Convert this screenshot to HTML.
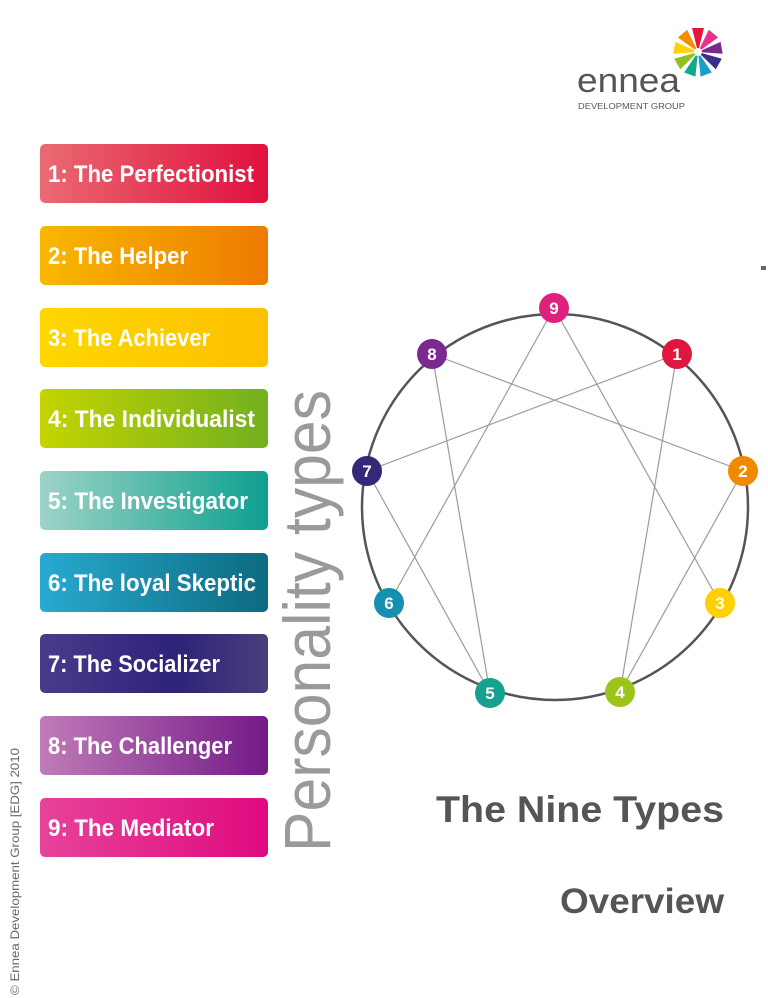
<!DOCTYPE html>
<html><head><meta charset="utf-8"><style>
html,body{margin:0;padding:0;background:#fff;}
svg{display:block;}
</style></head><body>
<svg width="768" height="998" viewBox="0 0 768 998" xmlns="http://www.w3.org/2000/svg" font-family="Liberation Sans, sans-serif">
<defs>
<linearGradient id="g1"><stop offset="0" stop-color="#ea6a72"/><stop offset="1" stop-color="#e0103e"/></linearGradient>
<linearGradient id="g2"><stop offset="0" stop-color="#f8b800"/><stop offset="1" stop-color="#ee7a00"/></linearGradient>
<linearGradient id="g3"><stop offset="0" stop-color="#ffd700"/><stop offset="1" stop-color="#fcc000"/></linearGradient>
<linearGradient id="g4"><stop offset="0" stop-color="#c4d400"/><stop offset="1" stop-color="#72b020"/></linearGradient>
<linearGradient id="g5"><stop offset="0" stop-color="#9dd3c6"/><stop offset="1" stop-color="#0da08e"/></linearGradient>
<linearGradient id="g6"><stop offset="0" stop-color="#28aad0"/><stop offset="1" stop-color="#0d6a80"/></linearGradient>
<linearGradient id="g7"><stop offset="0" stop-color="#4a3a8c"/><stop offset="0.6" stop-color="#2d2378"/><stop offset="1" stop-color="#4a3f7a"/></linearGradient>
<linearGradient id="g8"><stop offset="0" stop-color="#c07bb8"/><stop offset="1" stop-color="#741a88"/></linearGradient>
<linearGradient id="g9"><stop offset="0" stop-color="#e6439a"/><stop offset="1" stop-color="#e00a7e"/></linearGradient>
</defs>

<!-- logo -->
<g transform="translate(698,52)">
<path d="M0,0 L-6,-24 L6,-24Z" fill="#e2183c" transform="rotate(0)"/>
<path d="M0,0 L-6,-24 L6,-24Z" fill="#e8308c" transform="rotate(40)"/>
<path d="M0,0 L-6,-24 L6,-24Z" fill="#7a2a8e" transform="rotate(80)"/>
<path d="M0,0 L-6,-24 L6,-24Z" fill="#3a2e88" transform="rotate(120)"/>
<path d="M0,0 L-6,-24 L6,-24Z" fill="#1a9fc8" transform="rotate(160)"/>
<path d="M0,0 L-6,-24 L6,-24Z" fill="#14a88e" transform="rotate(200)"/>
<path d="M0,0 L-6,-24 L6,-24Z" fill="#8ec21e" transform="rotate(240)"/>
<path d="M0,0 L-6,-24 L6,-24Z" fill="#ffd200" transform="rotate(280)"/>
<path d="M0,0 L-6,-24 L6,-24Z" fill="#f29000" transform="rotate(320)"/>
<circle r="4" fill="#fff"/>
</g>
<text x="577" y="92" font-size="34" fill="#555" textLength="103" lengthAdjust="spacingAndGlyphs">ennea</text>
<text x="578" y="109" font-size="8.5" fill="#555" textLength="107" lengthAdjust="spacingAndGlyphs">DEVELOPMENT GROUP</text>
<rect x="761" y="266" width="5" height="4" fill="#666"/>

<!-- bars -->
<g font-weight="bold" font-size="24" fill="#fff">
<rect x="40" y="144" width="228" height="59" rx="5" fill="url(#g1)"/><text x="48" y="182" textLength="206" lengthAdjust="spacingAndGlyphs">1: The Perfectionist</text>
<rect x="40" y="226" width="228" height="59" rx="5" fill="url(#g2)"/><text x="48" y="264" textLength="140" lengthAdjust="spacingAndGlyphs">2: The Helper</text>
<rect x="40" y="308" width="228" height="59" rx="5" fill="url(#g3)"/><text x="48" y="346" textLength="162" lengthAdjust="spacingAndGlyphs">3: The Achiever</text>
<rect x="40" y="389" width="228" height="59" rx="5" fill="url(#g4)"/><text x="48" y="427" textLength="207" lengthAdjust="spacingAndGlyphs">4: The Individualist</text>
<rect x="40" y="471" width="228" height="59" rx="5" fill="url(#g5)"/><text x="48" y="509" textLength="200" lengthAdjust="spacingAndGlyphs">5: The Investigator</text>
<rect x="40" y="553" width="228" height="59" rx="5" fill="url(#g6)"/><text x="48" y="591" textLength="208" lengthAdjust="spacingAndGlyphs">6: The loyal Skeptic</text>
<rect x="40" y="634" width="228" height="59" rx="5" fill="url(#g7)"/><text x="48" y="672" textLength="172" lengthAdjust="spacingAndGlyphs">7: The Socializer</text>
<rect x="40" y="716" width="228" height="59" rx="5" fill="url(#g8)"/><text x="48" y="754" textLength="184" lengthAdjust="spacingAndGlyphs">8: The Challenger</text>
<rect x="40" y="798" width="228" height="59" rx="5" fill="url(#g9)"/><text x="48" y="836" textLength="166" lengthAdjust="spacingAndGlyphs">9: The Mediator</text>
</g>

<text transform="translate(330,852) rotate(-90)" font-size="66" fill="#9a9a9a" textLength="462" lengthAdjust="spacingAndGlyphs">Personality types</text>
<text transform="translate(19,995) rotate(-90)" font-size="12" fill="#666" textLength="247" lengthAdjust="spacingAndGlyphs">© Ennea Development Group [EDG] 2010</text>

<!-- enneagram -->
<circle cx="555" cy="507" r="193" fill="none" stroke="#555" stroke-width="2.5"/>
<g stroke="#a09a98" stroke-width="1.2">
<line x1="554" y1="308" x2="720" y2="603"/>
<line x1="554" y1="308" x2="389" y2="603"/>
<line x1="677" y1="354" x2="367" y2="471"/>
<line x1="677" y1="354" x2="620" y2="692"/>
<line x1="620" y1="692" x2="743" y2="471"/>
<line x1="743" y1="471" x2="432" y2="354"/>
<line x1="432" y1="354" x2="490" y2="693"/>
<line x1="490" y1="693" x2="367" y2="471"/>
</g>
<g font-weight="bold" font-size="17" fill="#fff" text-anchor="middle">
<circle cx="554" cy="308" r="15" fill="#e0207e"/><text x="554" y="314">9</text>
<circle cx="677" cy="354" r="15" fill="#e0163e"/><text x="677" y="360">1</text>
<circle cx="743" cy="471" r="15" fill="#f08a00"/><text x="743" y="477">2</text>
<circle cx="720" cy="603" r="15" fill="#ffd000"/><text x="720" y="609">3</text>
<circle cx="620" cy="692" r="15" fill="#9cc41a"/><text x="620" y="698">4</text>
<circle cx="490" cy="693" r="15" fill="#16a090"/><text x="490" y="699">5</text>
<circle cx="389" cy="603" r="15" fill="#1490b0"/><text x="389" y="609">6</text>
<circle cx="367" cy="471" r="15" fill="#352878"/><text x="367" y="477">7</text>
<circle cx="432" cy="354" r="15" fill="#7a2a8e"/><text x="432" y="360">8</text>
</g>

<text x="724" y="822" font-size="37" font-weight="bold" fill="#555" text-anchor="end" textLength="288" lengthAdjust="spacingAndGlyphs">The Nine Types</text>
<text x="724" y="913" font-size="35" font-weight="bold" fill="#555" text-anchor="end" textLength="164" lengthAdjust="spacingAndGlyphs">Overview</text>
</svg>
</body></html>
